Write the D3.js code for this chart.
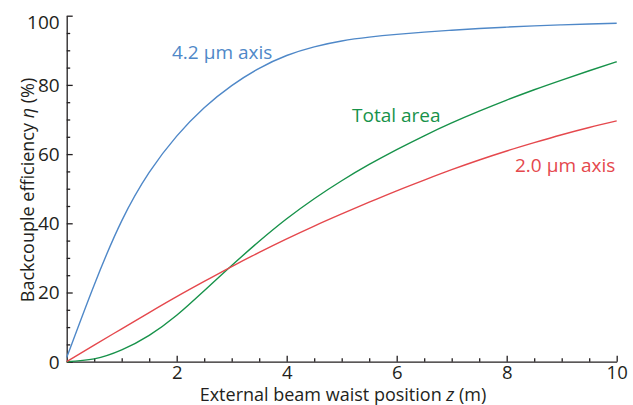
<!DOCTYPE html>
<html>
<head>
<meta charset="utf-8">
<script src="https://cdn.jsdelivr.net/npm/d3@7"></script>
<style>
  body { margin: 0; background: #fff; }
  text { font-family: "Open Sans", "DejaVu Sans", sans-serif; fill: #231f20; }
</style>
</head>
<body>
<svg id="chart" width="633" height="405"></svg>
<script>
// ====== datos (z cada 0.5 m) ======
var zVals   = [0, 0.5, 1, 1.5, 2, 2.5, 3, 3.5, 4, 4.5, 5, 5.5, 6, 6.5, 7, 7.5, 8, 8.5, 9, 9.5, 10];
var axis42  = [1.2, 22.2, 40.7, 54.7, 65.2, 73.4, 79.8, 84.8, 88.5, 91.0, 92.7, 93.8, 94.6, 95.25, 95.8, 96.3, 96.7, 97.05, 97.35, 97.6, 97.8];
var axis20  = [0, 4.8, 9.5, 14.2, 18.8, 23.2, 27.5, 31.6, 35.5, 39.2, 42.7, 46.1, 49.4, 52.5, 55.5, 58.3, 60.9, 63.3, 65.6, 67.7, 69.6];
var total   = [0, 0.8, 3.4, 7.6, 13.4, 20.5, 27.8, 34.8, 41.3, 47.1, 52.3, 57.0, 61.3, 65.3, 69.0, 72.4, 75.6, 78.6, 81.4, 84.1, 86.7];
var xTicks  = [2, 4, 6, 8, 10];
var yTicks  = [0, 20, 40, 60, 80, 100];

var series = [
  { name: "4.2 \u03bcm axis", values: axis42, color: "#4f88c8", lx: 172, ly: 59 },
  { name: "Total area",       values: total,  color: "#17924a", lx: 352, ly: 122 },
  { name: "2.0 \u03bcm axis", values: axis20, color: "#e5484d", lx: 515, ly: 172 }
];

var svg = d3.select("#chart");

var x = d3.scaleLinear().domain([0, 10]).range([66.7, 616.7]);
var y = d3.scaleLinear().domain([0, 100]).range([361.7, 15.7]);

// ====== ejes ======
var xMinor = d3.range(0.5, 10, 0.5).filter(function(d) { return d % 2 !== 0; });
var yMinor = d3.range(5, 100, 5).filter(function(d) { return d % 20 !== 0; });

svg.append("g")
  .attr("transform", "translate(0," + y(0) + ")")
  .call(d3.axisBottom(x).tickValues(xMinor).tickSize(-3.5).tickFormat(""))
  .call(function(g) { g.select(".domain").remove(); });

svg.append("g")
  .attr("transform", "translate(" + x(0) + ",0)")
  .call(d3.axisLeft(y).tickValues(yMinor).tickSize(-3.5).tickFormat(""))
  .call(function(g) { g.select(".domain").remove(); });

var xAxis = svg.append("g")
  .attr("transform", "translate(0," + y(0) + ")")
  .call(d3.axisBottom(x).tickValues(xTicks).tickSize(-6).tickSizeOuter(0));

var yAxis = svg.append("g")
  .attr("transform", "translate(" + x(0) + ",0)")
  .call(d3.axisLeft(y).tickValues(yTicks).tickSize(-6).tickSizeOuter(0));

svg.selectAll(".tick line, .domain").attr("stroke", "#231f20").attr("stroke-width", 1.3);
xAxis.selectAll("text").style("font-size", "18.5px").attr("dy", "0").attr("y", 17);
yAxis.selectAll("text").style("font-size", "19px").attr("x", -7)
  .attr("dy", function(d) { return d === 100 ? "0.65em" : "0.34em"; });

// titulos de ejes
var xt = svg.append("text")
  .attr("x", 343).attr("y", 401)
  .attr("text-anchor", "middle")
  .style("font-size", "18px");
xt.append("tspan").text("External beam waist position ");
xt.append("tspan").style("font-style", "italic").text("z");
xt.append("tspan").text(" (m)");

var yt = svg.append("text")
  .attr("transform", "translate(34,190) rotate(-90)")
  .attr("text-anchor", "middle")
  .style("font-size", "18px");
yt.append("tspan").text("Backcouple efficiency ");
yt.append("tspan").style("font-style", "italic").text("\u03b7");
yt.append("tspan").text(" (%)");

// ====== curvas ======
var line = d3.line()
  .x(function(d, i) { return x(zVals[i]); })
  .y(function(d) { return y(d); })
  .curve(d3.curveNatural);

svg.selectAll(".serie")
  .data(series)
  .enter().append("path")
    .attr("class", "serie")
    .attr("d", function(d) { return line(d.values); })
    .attr("fill", "none")
    .attr("stroke", function(d) { return d.color; })
    .attr("stroke-width", 1.4);

svg.selectAll(".etiqueta")
  .data(series)
  .enter().append("text")
    .attr("class", "etiqueta")
    .attr("x", function(d) { return d.lx; })
    .attr("y", function(d) { return d.ly; })
    .style("font-size", "19px")
    .style("fill", function(d) { return d.color; })
    .text(function(d) { return d.name; });
</script>
</body>
</html>
